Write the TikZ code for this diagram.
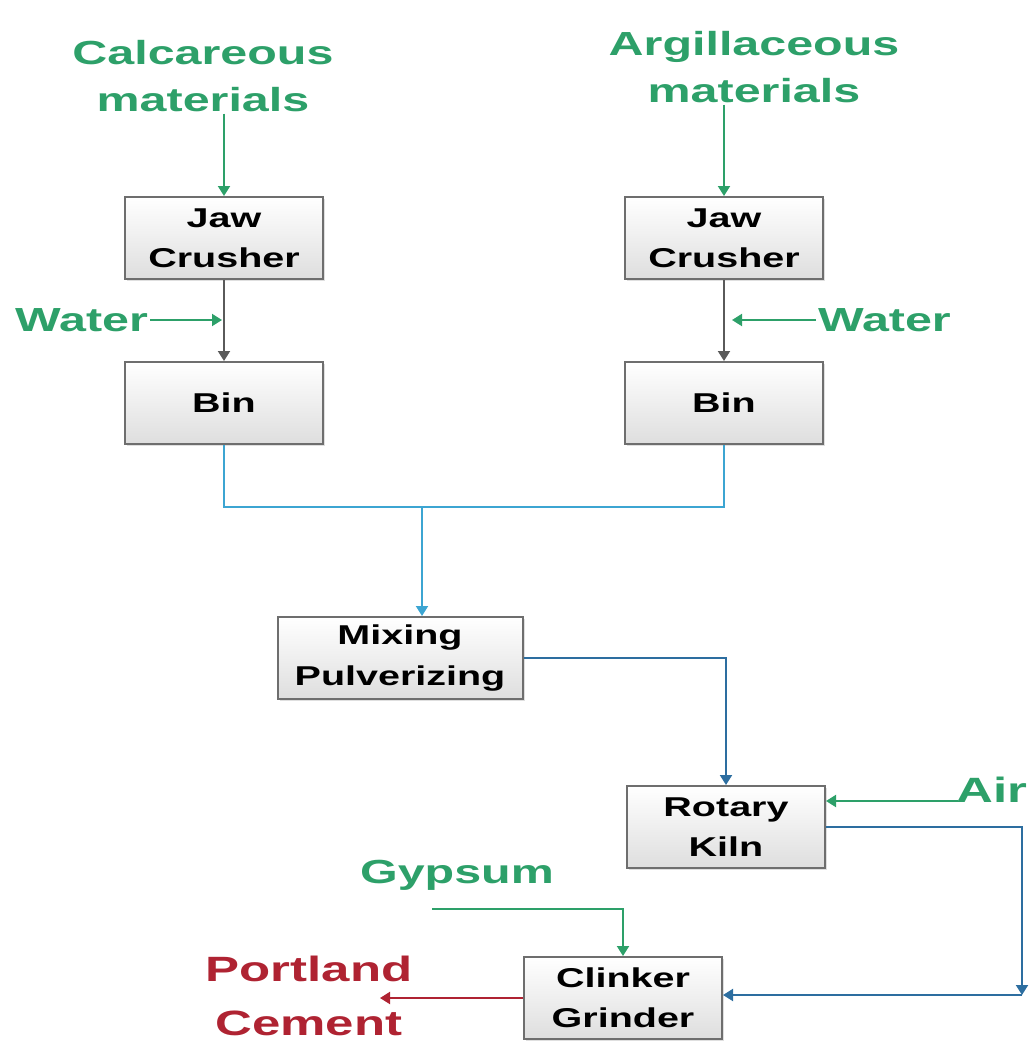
\documentclass[tikz,border=0pt]{standalone}
\usepackage{fontspec}
\setmainfont{Liberation Sans}[FakeStretch=1.45]
\usetikzlibrary{arrows.meta,shadows,positioning}

\definecolor{feedgreen}{RGB}{45,160,105}
\definecolor{linegray}{RGB}{90,90,90}
\definecolor{mixblue}{RGB}{60,165,210}
\definecolor{kilnblue}{RGB}{45,110,160}
\definecolor{cementred}{RGB}{175,35,50}
\definecolor{boxgray}{RGB}{110,110,110}
\definecolor{boxfill}{RGB}{222,222,222}

\begin{document}
\begin{tikzpicture}[x=0.2mm,y=-0.2mm,
  >={Triangle[length=2mm,width=2.4mm]},
  procbox/.style={draw=boxgray,line width=0.4mm,top color=white,
    bottom color=boxfill,minimum width=39.6mm,minimum height=16.4mm,
    inner sep=0pt,align=center,
    drop shadow={shadow xshift=0.4mm,shadow yshift=-0.4mm,opacity=0.25},
    font=\fontsize{15.5}{23}\selectfont\bfseries},
  feedtext/.style={text=feedgreen,align=center,inner sep=1pt,
    font=\fontsize{19}{26.5}\selectfont\bfseries},
  flow/.style={->,line width=0.4mm}]
\useasboundingbox (0,0) rectangle (1029,1046);

% process boxes
\node[procbox] (jawL) at (224,238) {Jaw\\Crusher};
\node[procbox] (binL) at (224,403) {Bin};
\node[procbox] (jawR) at (724,238) {Jaw\\Crusher};
\node[procbox] (binR) at (724,403) {Bin};
\node[procbox,minimum width=49mm] (mix) at (400,658) {Mixing\\Pulverizing};
\node[procbox] (kiln) at (726,827) {Rotary\\Kiln};
\node[procbox] (grind) at (623,998) {Clinker\\Grinder};

% feeds
\node[feedtext] (calc) at (203,76) {Calcareous\\materials};
\node[feedtext] (argil) at (754,67) {Argillaceous\\materials};
\node[feedtext,anchor=east] (waterL) at (150,320) {Water};
\node[feedtext,anchor=west] (waterR) at (816,320) {Water};
\node[feedtext,anchor=base east,inner sep=0pt,
  font=\fontsize{20}{26}\selectfont\bfseries] (air) at (1028,802) {Air};
\node[feedtext,anchor=base] (gyp) at (457,883) {Gypsum};
\node[feedtext,text=cementred,font=\fontsize{20}{31}\selectfont\bfseries]
  (cement) at (309,996) {Portland\\Cement};

\coordinate (waterLtip) at (222,320);
\coordinate (waterRtip) at (732,320);
\coordinate (join) at (422,507);
\coordinate (airin) at (958,801);
\coordinate (turn) at (1022,995);
\coordinate (gypin) at (432,909);
\coordinate (cementtip) at (380,998);

% green inputs
\draw[flow,feedgreen] (calc.south -| jawL.north) -- (jawL.north);
\draw[flow,feedgreen] (argil.south -| jawR.north) -- (jawR.north);
\draw[flow,feedgreen] (waterL.east) -- (waterLtip);
\draw[flow,feedgreen] (waterR.west) -- (waterRtip);
\draw[flow,feedgreen] (airin) -- (airin -| kiln.east);
\draw[flow,feedgreen] (gypin) -| (grind.north);

% crusher to bin
\draw[flow,linegray] (jawL) -- (binL);
\draw[flow,linegray] (jawR) -- (binR);

% bins to mixing
\draw[line width=0.4mm,mixblue] (binL.south) |- (join) -| (binR.south);
\draw[flow,mixblue] (join) -- (join |- mix.north);

% mixing, kiln, grinder
\draw[flow,kilnblue] (mix.east) -| (kiln.north);
\draw[flow,kilnblue] (kiln.east) -| (turn);
\draw[flow,kilnblue] (turn) -- (turn -| grind.east);
\draw[flow,cementred] (grind.west) -- (cementtip -| grind.west) -- (cementtip);
\end{tikzpicture}
\end{document}
